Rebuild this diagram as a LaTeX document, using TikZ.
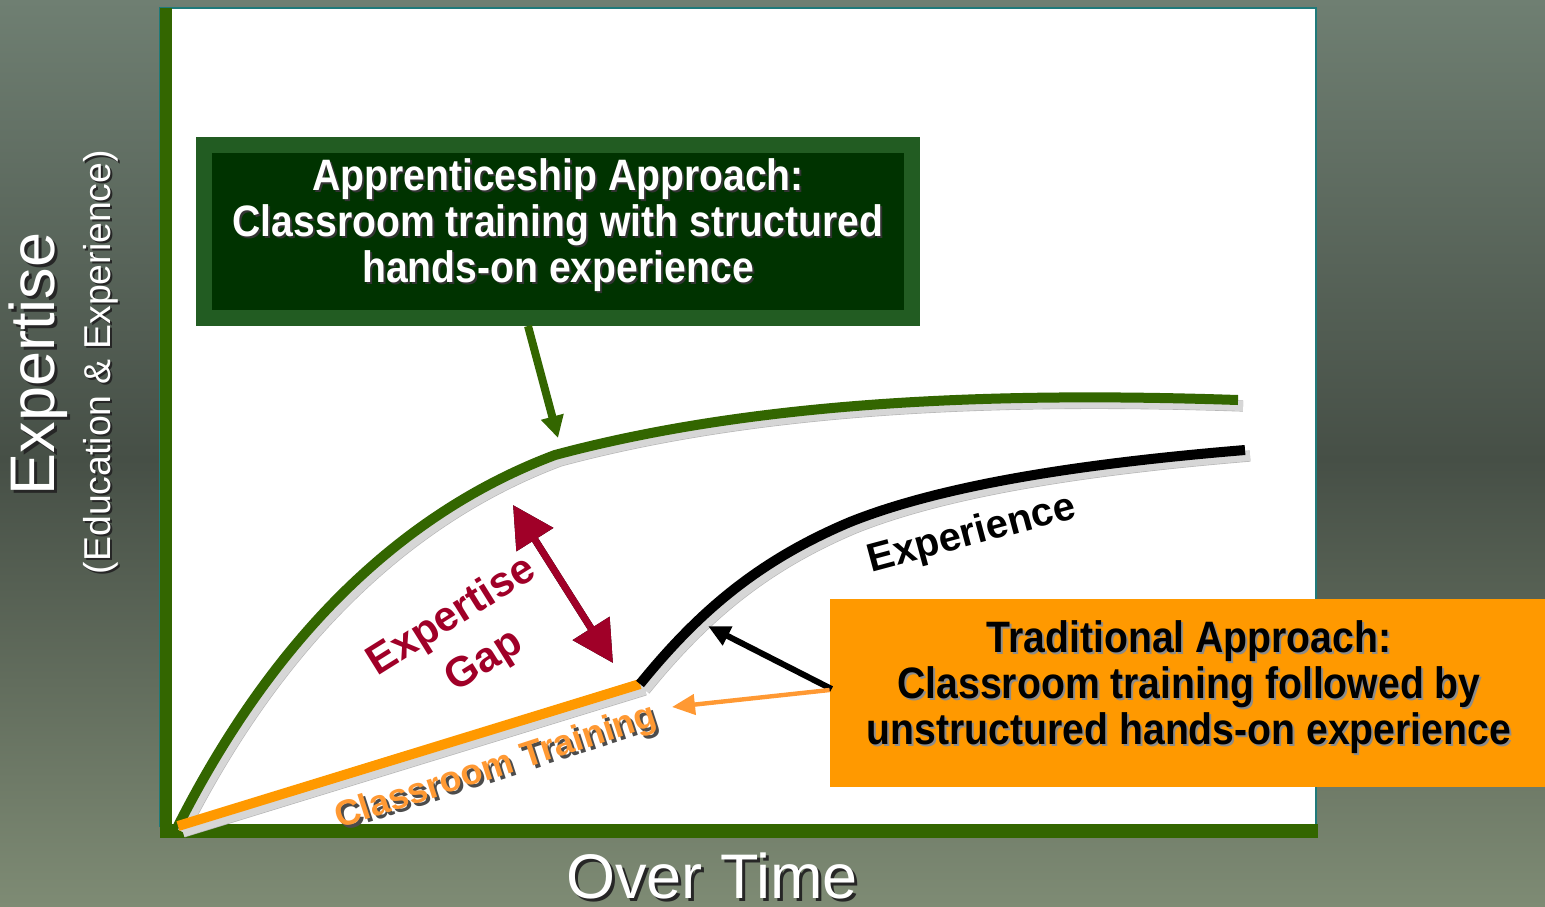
\documentclass[tikz,border=0pt]{standalone}
\usepackage{fontspec}
\setmainfont{Liberation Sans}
\newfontfamily\narrow[FakeStretch=0.89]{Liberation Sans}
\usetikzlibrary{arrows.meta,calc}
\definecolor{bgtop}{HTML}{6F7F72}
\definecolor{bgmid}{HTML}{464F46}
\definecolor{bgbot}{HTML}{7E8B74}
\definecolor{agreen}{HTML}{336600}
\definecolor{boxouter}{HTML}{225C22}
\definecolor{boxinner}{HTML}{003300}
\definecolor{orangebox}{HTML}{FF9900}
\definecolor{orangetxt}{HTML}{FF9933}
\definecolor{gapred}{HTML}{A00028}
\definecolor{plotedge}{HTML}{1F7A7A}
\definecolor{shadowgray}{HTML}{D6D6D6}
\definecolor{shadowedge}{HTML}{B4B4B4}
\tikzset{
  shadowline/.style={line width=5pt, draw=shadowgray},
  shadowlineedge/.style={line width=5.6pt, draw=shadowedge},
  curvegreen/.style={line width=5pt, draw=agreen},
  curveblack/.style={line width=5pt, draw=black},
  lineorange/.style={line width=5pt, draw=orangebox},
  boxtxt/.style={font={\narrow\bfseries\fontsize{22}{23}\selectfont}, align=center, inner sep=0pt},
  axistxt/.style={font={\fontsize{31.5}{36}\selectfont}, text=white, inner sep=0pt},
  subaxistxt/.style={font={\fontsize{18.7}{22}\selectfont}, text=white, inner sep=0pt},
  gaptxt/.style={font={\bfseries\fontsize{21}{24}\selectfont}, text=gapred, inner sep=0pt},
  classtxt/.style={font={\bfseries\fontsize{18}{20}\selectfont}, inner sep=0pt},
  exptxt/.style={font={\bfseries\fontsize{20}{24}\selectfont}, text=black, inner sep=0pt},
}
\begin{document}
\begin{tikzpicture}[x=0.5pt,y=-0.5pt]
\useasboundingbox (0,0) rectangle (1545,906);
% background
\shade[top color=bgtop, bottom color=bgmid] (0,0) rectangle (1545,460);
\shade[top color=bgmid, bottom color=bgbot] (0,459) rectangle (1545,906);
% plot area
\fill[white, draw=plotedge, line width=1pt] (160,8) rectangle (1316,826);
% axes
\fill[agreen] (160,8) rectangle (172,838);
\fill[agreen] (160,824) rectangle (1318,838);
% shadows of the curves
\begin{scope}[shift={(5,6)}]
  \draw[shadowlineedge] (178,826) .. controls (290,605) and (430,502) .. (555,455) .. controls (760,400) and (1000,392) .. (1238,400);
  \draw[shadowlineedge] (178,826) -- (640,684);
  \draw[shadowlineedge] (640,684) .. controls (700,610) and (760,560) .. (850,522) .. controls (950,482) and (1100,462) .. (1245,450);
  \draw[shadowline] (178,826) .. controls (290,605) and (430,502) .. (555,455) .. controls (760,400) and (1000,392) .. (1238,400);
  \draw[shadowline] (178,826) -- (640,684);
  \draw[shadowline] (640,684) .. controls (700,610) and (760,560) .. (850,522) .. controls (950,482) and (1100,462) .. (1245,450);
\end{scope}
% curves
\draw[curvegreen] (178,826) .. controls (290,605) and (430,502) .. (555,455) .. controls (760,400) and (1000,392) .. (1238,400);
\draw[lineorange] (178,826) -- (640,684);
\draw[curveblack] (640,684) .. controls (700,610) and (760,560) .. (850,522) .. controls (950,482) and (1100,462) .. (1245,450);
% green box
\node[draw=boxouter, line width=8pt, fill=boxinner, minimum width=354pt, minimum height=86.5pt, inner sep=0pt] (appbox) at (558,231.5) {};
\node[boxtxt, text=black!80] (appshadow) at (560,227) {Apprenticeship Approach:\\Classroom training with structured\\hands-on experience};
\node[boxtxt, text=white] (apptext) at (558,225) {Apprenticeship Approach:\\Classroom training with structured\\hands-on experience};
% orange box
\node[fill=orangebox, minimum width=357.5pt, minimum height=94pt, inner sep=0pt] (tradbox) at (1187.5,693) {};
\node[boxtxt, text=black!45] (tradshadow) at (1191,689) {Traditional Approach:\\Classroom training followed by\\unstructured hands-on experience};
\node[boxtxt, text=black] (tradtext) at (1189,687) {Traditional Approach:\\Classroom training followed by\\unstructured hands-on experience};
% connectors
\coordinate (gtip) at (558,438);
\coordinate (btip) at (708,626);
\coordinate (otip) at (672,707);
\draw[agreen, line width=4pt, -{Triangle[length=11pt,width=11pt]}] ($(appbox.south)+(-30,0)$) -- (gtip);
\draw[black, line width=3pt, -{Triangle[length=11pt,width=10pt]}] ($(tradbox.west)+(2,-4)$) -- (btip);
\draw[orangetxt, line width=2.2pt, -{Triangle[length=11.5pt,width=10pt]}] ($(tradbox.west)+(0,-3)$) -- (otip);
% expertise gap arrow
\coordinate (gapA) at (513,505);
\coordinate (gapB) at (613,663);
\draw[black, line width=3.5pt, {Triangle[length=20.5pt,width=21pt]}-{Triangle[length=20.5pt,width=21pt]}, shift={(4,3)}] (gapA) -- (gapB);
\draw[gapred, line width=3.5pt, {Triangle[length=20.5pt,width=21pt]}-{Triangle[length=20.5pt,width=21pt]}] (gapA) -- (gapB);
% labels
\node[gaptxt, rotate=32] (gapt1) at (452,617) {Expertise};
\node[gaptxt, rotate=32] (gapt2) at (485,662) {Gap};
\node[classtxt, rotate=18, text=black!70] (classshadow) at (499,771) {Classroom Training};
\node[classtxt, rotate=18, text=orangetxt] (classtext) at (496,768) {Classroom Training};
\node[exptxt, rotate=15] (exptext) at (972,535) {Experience};
% axis labels
\node[axistxt, text=black!85, rotate=90] (ylabshadow) at (41,367) {Expertise};
\node[axistxt, rotate=90] (ylab) at (38,364) {Expertise};
\node[subaxistxt, text=black!85, rotate=90] (ysubshadow) at (103,364) {(Education \& Experience)};
\node[subaxistxt, rotate=90] (ysub) at (101,362) {(Education \& Experience)};
\node[axistxt, text=black!85, anchor=base] (xlabshadow) at (715,901) {Over Time};
\node[axistxt, anchor=base] (xlab) at (712,898) {Over Time};
\end{tikzpicture}
\end{document}
